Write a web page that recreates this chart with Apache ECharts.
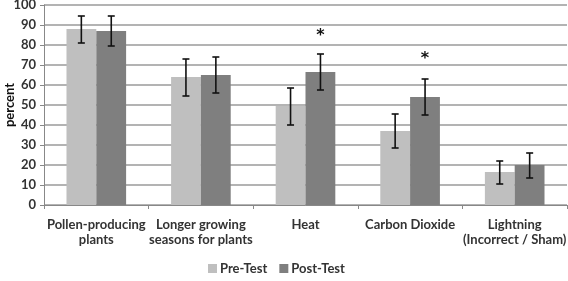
<!DOCTYPE html>
<html>
<head>
<meta charset="utf-8">
<script src="https://cdn.jsdelivr.net/npm/echarts@6/dist/echarts.min.js"></script>
<style>
html, body { margin: 0; padding: 0; background: #fff; }
#chart { width: 568px; height: 281px; }
</style>
</head>
<body>
<div id="chart"></div>
<script>
var categories = ['Pollen-producing\nplants', 'Longer growing\nseasons for plants', 'Heat', 'Carbon Dioxide', 'Lightning\n(Incorrect / Sham)'];
var preTest = [88, 64, 49.5, 37, 16.5];
var postTest = [87, 65, 66.5, 54, 20];
var preLow = [81, 54.5, 40, 28.5, 10.5];
var preHigh = [94.5, 73, 58.5, 45.5, 22];
var postLow = [79.5, 56, 57.5, 45, 13.5];
var postHigh = [94.5, 74, 75.5, 63, 26];
var starIdx = [2, 3];
var starVal = [85, 73.5];

var font = 'Lato';
var myChart = echarts.init(document.getElementById('chart'));

// error bars: [category, low, high, series offset]
var errData = [];
for (var i = 0; i < categories.length; i++) {
    errData.push([i, preLow[i], preHigh[i], -1]);
    errData.push([i, postLow[i], postHigh[i], 1]);
}
var starData = starIdx.map(function (c, k) { return [c, starVal[k]]; });

function renderErr(params, api) {
    var c = api.value(0);
    var lo = api.coord([c, api.value(1)]);
    var hi = api.coord([c, api.value(2)]);
    var bw = api.size([1, 0])[0];
    var x = lo[0] + api.value(3) * bw * 0.143;
    var hw = 3.5;
    var st = { stroke: '#111', lineWidth: 1.6 };
    return {
        type: 'group',
        children: [
            { type: 'line', shape: { x1: x, y1: hi[1], x2: x, y2: lo[1] }, style: st },
            { type: 'line', shape: { x1: x - hw, y1: hi[1], x2: x + hw, y2: hi[1] }, style: st },
            { type: 'line', shape: { x1: x - hw, y1: lo[1], x2: x + hw, y2: lo[1] }, style: st }
        ]
    };
}

function renderStar(params, api) {
    var c = api.value(0);
    var p = api.coord([c, api.value(1)]);
    var bw = api.size([1, 0])[0];
    return {
        type: 'text',
        x: p[0] + bw * 0.143,
        y: p[1] + 1,
        style: { text: '*', font: 'bold 16px "DejaVu Sans"', fill: '#111', align: 'center', verticalAlign: 'middle' }
    };
}

var option = {
    animation: false,
    textStyle: { fontFamily: font },
    grid: { left: 44, right: 1, top: 5, bottom: 76, containLabel: false, outerBoundsMode: 'none' },
    // y axis title, placed by hand (axis name gets pushed off the canvas)
    graphic: [{
        type: 'text',
        x: 10,
        y: 105,
        rotation: Math.PI / 2,
        style: { text: 'percent', font: 'bold 13px ' + font, fill: '#111', align: 'center', verticalAlign: 'middle' }
    }],
    legend: {
        bottom: 1,
        left: 203,
        itemWidth: 9,
        itemHeight: 9,
        itemGap: 12,
        icon: 'rect',
        textStyle: { fontSize: 13, fontWeight: 'bold', color: '#333', fontFamily: font, padding: [0, 0, 0, -2] },
        data: ['Pre-Test', 'Post-Test']
    },
    xAxis: {
        type: 'category',
        data: categories,
        axisLine: { lineStyle: { color: '#888', width: 1 } },
        axisTick: { show: true, length: 4, lineStyle: { color: '#888' } },
        axisLabel: { fontSize: 13, fontWeight: 'bold', color: '#333', margin: 12, lineHeight: 15, interval: 0 }
    },
    yAxis: {
        type: 'value',
        min: 0,
        max: 100,
        interval: 10,
        axisLine: { show: true, lineStyle: { color: '#888' } },
        axisTick: { show: true, length: 4, lineStyle: { color: '#888' } },
        axisLabel: { fontSize: 13, fontWeight: 'bold', color: '#333', margin: 8 },
        splitLine: { lineStyle: { color: '#9a9a9a', width: 1.5 } }
    },
    series: [
        {
            name: 'Pre-Test',
            type: 'bar',
            data: preTest,
            barGap: '0%',
            barCategoryGap: '43%',
            itemStyle: { color: '#bfbfbf' }
        },
        {
            name: 'Post-Test',
            type: 'bar',
            data: postTest,
            itemStyle: { color: '#7f7f7f' }
        },
        {
            type: 'custom',
            renderItem: renderErr,
            data: errData,
            z: 5
        },
        {
            type: 'custom',
            renderItem: renderStar,
            data: starData,
            z: 5
        }
    ]
};
myChart.setOption(option);
</script>
</body>
</html>
